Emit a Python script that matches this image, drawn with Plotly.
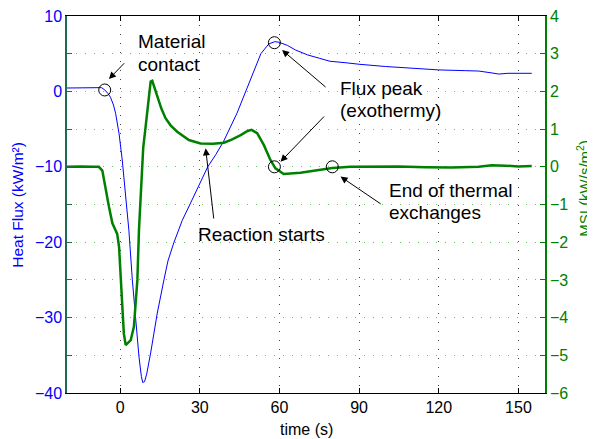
import plotly.graph_objects as go

# ---- data ----
flux_t = [-20, -15, -10, -7, -5.8, -4.5, -3.6, -2.5, -1.7, -0.4, 0.8, 1.5, 2.5, 3.3, 4.6, 5.8,
          7.1, 8.0, 8.5, 9.2, 10, 11.5, 12.5, 14, 16.5, 18, 20.2, 23.4, 26, 30, 33, 36, 39, 44,
          49, 53, 56, 58.3, 60, 63, 66, 70.5, 75, 79, 85, 90, 100, 110, 120, 130, 135, 140,
          142.6, 146, 150, 155]
flux_v = [0.45, 0.45, 0.5, 0.5, 0.2, -0.3, -0.8, -1.8, -2.9, -5.6, -9.1, -11.8, -15.3, -18.4,
          -25, -30.3, -35.2, -37.8, -38.6, -38.5, -37.5, -34.7, -32.5, -29.4, -25, -22.5, -20.1,
          -17.1, -15.2, -12.3, -10.0, -8.4, -6.6, -2.9, 1.5, 5.0, 6.3, 6.6, 6.5, 6.1, 5.5, 4.85,
          4.4, 4.0, 3.8, 3.6, 3.3, 3.05, 2.85, 2.75, 2.7, 2.45, 2.3, 2.4, 2.42, 2.4]

msi_t = [-20, -15, -10, -8, -6.7, -6.1, -5.5, -4.2, -2.9, -1.8, -1.1, -0.4, 0.2, 0.8, 1.4, 2.1,
         3.0, 4.0, 5.2, 6.5, 7.1, 8, 8.7, 9.6, 10.5, 11.5, 12.1, 13, 14, 15.5, 17.1, 19, 21.5,
         25.9, 30.3, 35, 39.1, 42, 45.4, 48, 49.5, 51.6, 54.1, 56.6, 58.5, 61.6, 67.9, 75.5,
         79.9, 86.7, 95, 105, 115, 125, 135, 140, 145, 150, 155]
msi_v = [0.0, 0.01, 0.0, 0.0, -0.1, -0.35, -0.6, -1.06, -1.5, -1.7, -1.78, -2.12, -3.0, -3.9,
         -4.42, -4.73, -4.68, -4.6, -4.24, -3.0, -1.68, -0.35, 0.5, 1.06, 1.7, 2.26, 2.28, 2.1,
         1.86, 1.55, 1.29, 1.1, 0.93, 0.71, 0.62, 0.61, 0.64, 0.72, 0.84, 0.95, 0.98, 0.89,
         0.58, 0.18, -0.04, -0.19, -0.16, -0.08, -0.03, 0.0, 0.0, 0.01, -0.01, -0.02, 0.0,
         0.04, 0.03, 0.01, 0.02]

# marked events (circles)
flux_mark_t = [-5.8, 58.1]
flux_mark_v = [0.19, 6.46]
msi_mark_t = [58.1, 79.9]
msi_mark_v = [0.0, 0.0]

x_ticks = [0, 30, 60, 90, 120, 150]
y1_ticks = [-40, -35, -30, -25, -20, -15, -10, -5, 0, 5, 10]
y1_labels = ["−40", "", "−30", "", "−20", "", "−10", "", "0", "", "10"]
y2_ticks = [-6, -5, -4, -3, -2, -1, 0, 1, 2, 3, 4]
y2_labels = ["−6", "−5", "−4", "−3", "−2", "−1", "0", "1", "2", "3", "4"]

BLUE = "#0000ff"
GREEN = "#008000"
FONT = "Liberation Sans, Arial, sans-serif"

fig = go.Figure()
fig.add_trace(go.Scatter(x=flux_t, y=flux_v, mode="lines", line=dict(color=BLUE, width=1),
                         yaxis="y", showlegend=False, hoverinfo="skip"))
fig.add_trace(go.Scatter(x=msi_t, y=msi_v, mode="lines", line=dict(color=GREEN, width=2.5),
                         yaxis="y2", showlegend=False, hoverinfo="skip"))
fig.add_trace(go.Scatter(x=flux_mark_t, y=flux_mark_v, mode="markers", yaxis="y",
                         marker=dict(symbol="circle-open", size=12, color="black",
                                     line=dict(width=1, color="black")),
                         showlegend=False, hoverinfo="skip"))
fig.add_trace(go.Scatter(x=msi_mark_t, y=msi_mark_v, mode="markers", yaxis="y2",
                         marker=dict(symbol="circle-open", size=12, color="black",
                                     line=dict(width=1, color="black")),
                         showlegend=False, hoverinfo="skip"))

txt = dict(font=dict(family=FONT, size=19, color="black"), showarrow=False,
           xanchor="left", yanchor="middle", xref="x", yref="y")
arr = dict(text="", showarrow=True, arrowhead=2, arrowsize=1.4, arrowwidth=1,
           arrowcolor="black", standoff=0, xref="x")
ttl = dict(showarrow=False, xref="paper", yref="paper", xanchor="center", yanchor="middle")

annotations = [
    dict(x=6.0, y=6.62, text="Material", **txt),
    dict(x=6.0, y=3.63, text="contact", **txt),
    dict(x=82.0, y=0.41, text="Flux peak", **txt),
    dict(x=82.0, y=-2.53, text="(exothermy)", **txt),
    dict(x=28.4, y=-18.98, text="Reaction starts", **txt),
    dict(x=100.6, y=-13.12, text="End of thermal", **txt),
    dict(x=100.6, y=-16.0, text="exchanges", **txt),
    dict(x=-4.2, y=1.64, yref="y", ax=16.7, ay=-17.3, **arr),
    dict(x=61.0, y=5.49, yref="y", ax=45, ay=38.3, **arr),
    dict(x=60.4, y=0.135, yref="y2", ax=45, ay=-46.7, **arr),
    dict(x=32.2, y=0.49, yref="y2", ax=8.3, ay=71.7, **arr),
    dict(x=83.0, y=-0.26, yref="y2", ax=41.7, ay=28.3, **arr),
    # axis titles
    dict(x=0.5, y=-0.0955, text="time (s)",
         font=dict(family=FONT, size=16, color="black"), **ttl),
    dict(x=-0.104, y=0.5, text="Heat Flux (kW/m²)", textangle=-90,
         font=dict(family=FONT, size=15.5, color=BLUE), **ttl),
    dict(x=1.081, y=0.5438, text="MSI (kW/s/m<sup>2</sup>)", textangle=-90,
         font=dict(family=FONT, size=15, color=GREEN), **ttl),
]

# the page body adds an 8px offset, so the figure is 8px smaller than the window
fig.update_layout(
    width=587, height=431,
    margin=dict(l=59, r=50, t=8, b=46, autoexpand=False),
    paper_bgcolor="white", plot_bgcolor="white",
    font=dict(family=FONT, size=16, color="black"),
    annotations=annotations,
    xaxis=dict(range=[-20, 160], tickvals=x_ticks, ticks="inside", ticklen=5,
               tickcolor="black", showline=True, linecolor="black", linewidth=1,
               mirror="ticks", showgrid=True, gridcolor="#444444", griddash="1px,8px",
               gridwidth=1, zeroline=False, automargin=False, ticklabeloverflow="allow",
               tickfont=dict(family=FONT, size=16, color="black")),
    yaxis=dict(range=[-40, 10], tickvals=y1_ticks, ticktext=y1_labels, ticks="inside",
               ticklen=5, tickcolor="#1f6b4f", showline=True, linecolor="#1f6b4f",
               linewidth=1.5, showgrid=False, zeroline=False, automargin=False,
               ticklabeloverflow="allow",
               tickfont=dict(family=FONT, size=16, color=BLUE)),
    yaxis2=dict(range=[-6, 4], tickvals=y2_ticks, ticktext=y2_labels, ticks="inside",
                ticklen=5, tickcolor=GREEN, showline=True, linecolor=GREEN, linewidth=1.5,
                overlaying="y", side="right", showgrid=True, gridcolor="#6abf6a",
                griddash="1px,8px", gridwidth=1, zeroline=False, automargin=False,
                ticklabeloverflow="allow",
                tickfont=dict(family=FONT, size=16, color=GREEN)),
)

fig.write_html("out.html")
